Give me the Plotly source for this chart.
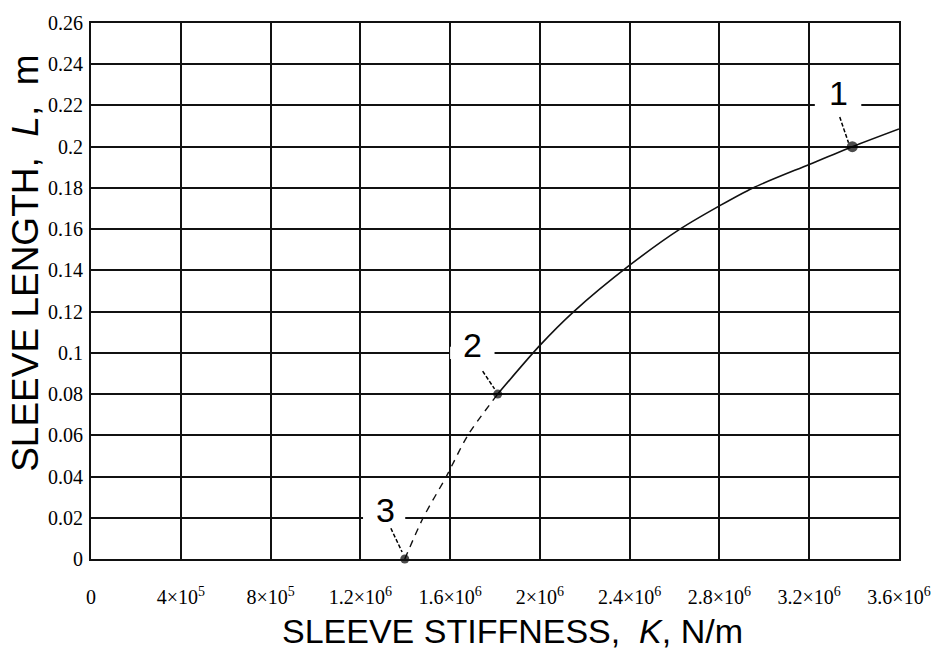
import plotly.graph_objects as go

# Solid branch of the curve (K in N/m, L in m)
k_solid = [1.812e6, 2.0e6, 2.151e6, 2.4e6, 2.624e6, 2.8e6, 2.949e6, 3.2e6, 3.392e6, 3.6e6]
l_solid = [0.080, 0.1036, 0.120, 0.1425, 0.160, 0.1713, 0.180, 0.1914, 0.200, 0.2086]

# Dashed branch
k_dash = [1.398e6, 1.48e6, 1.583e6, 1.679e6, 1.812e6]
l_dash = [0.0, 0.020, 0.040, 0.060, 0.080]

# Marked points
pt_names = ["1", "2", "3"]
pt_k = [3.392e6, 1.812e6, 1.398e6]
pt_l = [0.200, 0.080, 0.0]
pt_size = [11, 9, 9]

# Label positions, gridline gaps and leader lines
lab_k = [3.33e6, 1.70e6, 1.31e6]
lab_l = [0.222, 0.1, 0.02]
gap_k0 = [3.225e6, 1.60e6, 1.212e6]
gap_k1 = [3.432e6, 1.798e6, 1.40e6]
lead_k0 = [3.336e6, 1.745e6, 1.336e6]
lead_l0 = [0.2144, 0.0911, 0.0149]
lead_k1 = [3.375e6, 1.798e6, 1.386e6]
lead_l1 = [0.2019, 0.0825, 0.0034]

x_ticks = [0, 4e5, 8e5, 1.2e6, 1.6e6, 2.0e6, 2.4e6, 2.8e6, 3.2e6, 3.6e6]
x_tick_text = ["0", "4×10<sup>5</sup>", "8×10<sup>5</sup>", "1.2×10<sup>6</sup>", "1.6×10<sup>6</sup>",
               "2×10<sup>6</sup>", "2.4×10<sup>6</sup>", "2.8×10<sup>6</sup>", "3.2×10<sup>6</sup>",
               "3.6×10<sup>6</sup>"]
y_ticks = [0, 0.02, 0.04, 0.06, 0.08, 0.1, 0.12, 0.14, 0.16, 0.18, 0.2, 0.22, 0.24, 0.26]
y_tick_text = ["0", "0.02", "0.04", "0.06", "0.08", "0.1", "0.12", "0.14", "0.16", "0.18",
               "0.2", "0.22", "0.24", "0.26"]

fig = go.Figure()
fig.add_trace(go.Scatter(x=k_solid, y=l_solid, mode="lines", line_shape="spline",
                         line=dict(color="#111", width=1.6, smoothing=0.8), showlegend=False))
fig.add_trace(go.Scatter(x=k_dash, y=l_dash, mode="lines", line_shape="spline",
                         line=dict(color="#111", width=1.4, dash="7px,6px", smoothing=0.8),
                         showlegend=False))
fig.add_trace(go.Scatter(x=pt_k, y=pt_l, mode="markers",
                         marker=dict(color="black", size=pt_size, line=dict(width=0)),
                         showlegend=False, cliponaxis=False))

for i in range(len(pt_names)):
    fig.add_shape(type="rect", x0=gap_k0[i], x1=gap_k1[i], y0=lab_l[i] - 0.003, y1=lab_l[i] + 0.003,
                  fillcolor="white", line=dict(width=0), layer="between")
    fig.add_annotation(x=lab_k[i], y=lab_l[i], text=pt_names[i], showarrow=False,
                       font=dict(family="Liberation Sans", size=34, color="black"),
                       yshift=8, yanchor="middle")
    fig.add_shape(type="line", x0=lead_k0[i], y0=lead_l0[i], x1=lead_k1[i], y1=lead_l1[i],
                  line=dict(color="black", width=1.5, dash="4px,2px"), layer="above")

fig.add_annotation(xref="paper", yref="paper", x=0.522, y=-0.135, yanchor="middle",
                   text="SLEEVE STIFFNESS,  <i>K</i>, N/m", showarrow=False,
                   font=dict(family="Liberation Sans", size=34, color="black"))
fig.add_annotation(xref="paper", yref="paper", x=-0.082, y=0.552, xanchor="center", yanchor="middle",
                   text="SLEEVE LENGTH,  <i>L</i>,  m", showarrow=False, textangle=-90,
                   font=dict(family="Liberation Sans", size=37, color="black"))

axis_common = dict(showgrid=True, gridcolor="#111", gridwidth=2, showline=True,
                   linecolor="#111", linewidth=2, mirror=True, zeroline=False,
                   tickfont=dict(family="Liberation Serif", size=20, color="black"), ticks="")
fig.update_xaxes(range=[0, 3.6e6], tickvals=x_ticks, ticktext=x_tick_text,
                 ticklabelstandoff=19, **axis_common)
fig.update_yaxes(range=[0, 0.26], tickvals=y_ticks, ticktext=y_tick_text,
                 ticklabelstandoff=2, **axis_common)

fig.update_layout(width=943, height=664, margin=dict(l=91, r=39, t=17, b=105),
                  plot_bgcolor="white", paper_bgcolor="white", showlegend=False)

fig.write_html("out.html")
